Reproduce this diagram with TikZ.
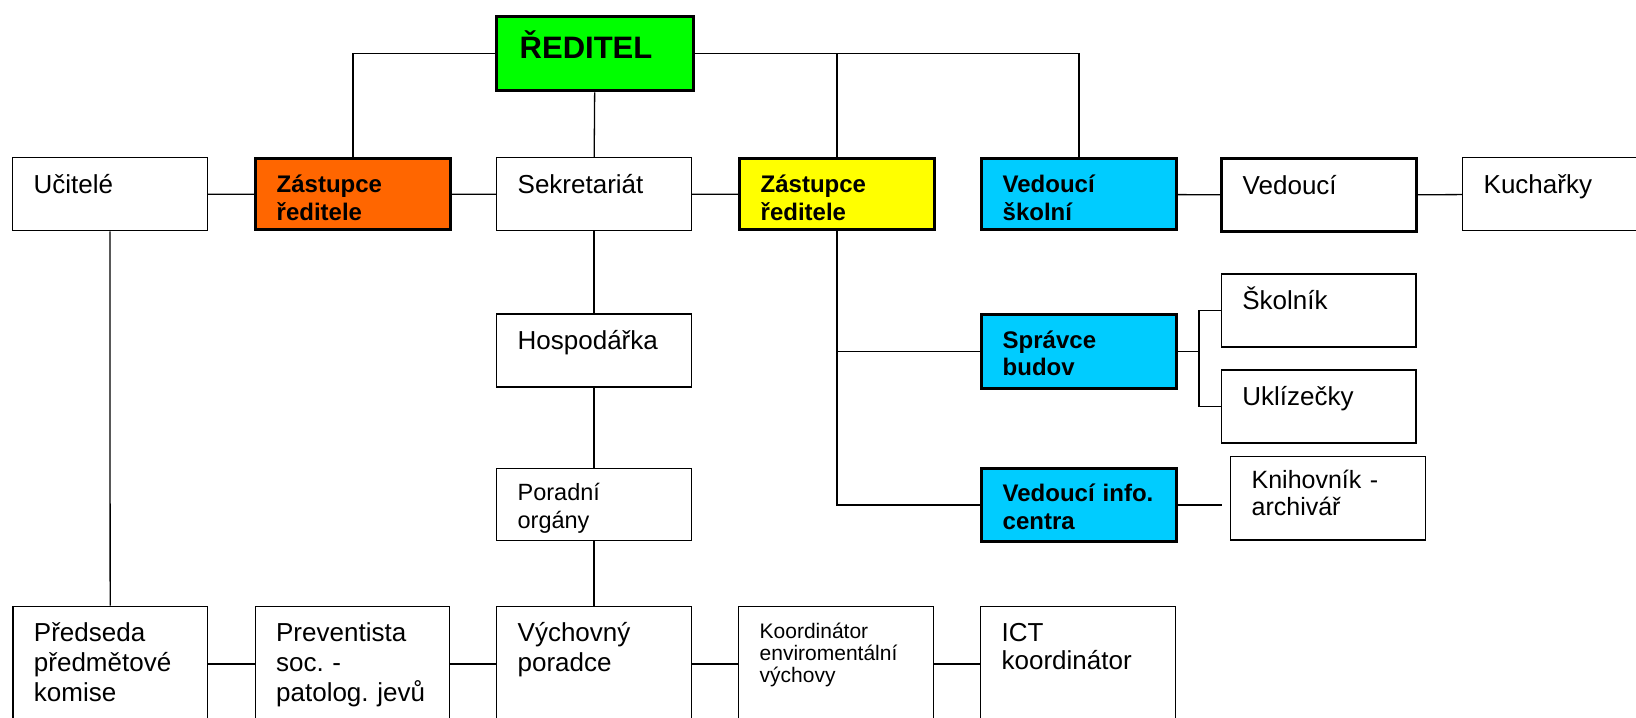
\documentclass[tikz,border=0pt]{standalone}
\usepackage{fontspec}
\setmainfont{Liberation Sans}
\usepackage{tikz}
\usetikzlibrary{calc}
\usetikzlibrary{positioning}
\definecolor{headGreen}{HTML}{00FF00}
\definecolor{deptOrange}{HTML}{FF6600}
\definecolor{deptYellow}{HTML}{FFFF00}
\definecolor{leadCyan}{HTML}{00CCFF}
\tikzstyle{box} = [draw, line width=0.65pt, anchor=north west, align=left, inner ysep=0pt, inner xsep=10.5pt, text width=76.25pt, font=\fontsize{13pt}{15pt}\selectfont, text height=18pt, text depth=18.5pt]
\tikzstyle{strong} = [line width=1.7pt]
\tikzstyle{boldtext} = [font=\bfseries\fontsize{12pt}{13.65pt}\selectfont, text height=17pt]
\tikzstyle{tallbox} = [text height=17.5pt, text depth=40pt, font=\fontsize{13pt}{15pt}\selectfont]
\tikzstyle{link} = [line width=0.65pt]
\frenchspacing

\begin{document}
\begin{tikzpicture}[x=0.5pt, y=-0.5pt]
    \useasboundingbox (0,0) rectangle (1636,717);

    \node[box, strong, fill=headGreen, inner xsep=11.5pt, text width=75.25pt, text height=21pt, text depth=16pt, font=\bfseries\fontsize{15.5pt}{17pt}\selectfont] (head) at (495,15) {ŘEDITEL};

    \node[box] (ucitele) at (12,157) {Učitelé};
    \node[box, strong, boldtext, fill=deptOrange] (zast_left) at (254,157) {Zástupce\\ředitele};
    \node[box] (sekr) at (496,157) {Sekretariát};
    \node[box, strong, boldtext, fill=deptYellow] (zast_right) at (738,157) {Zástupce\\ředitele};
    \node[box, strong, boldtext, fill=leadCyan] (ved_skol) at (980,157) {Vedoucí\\školní};
    \node[box, strong] (vedouci) at (1220,157) {Vedoucí};
    \node[box] (kuchar) at (1462,157) {Kuchařky};

    \node[box] (hosp) at (496,313.3) {Hospodářka};
    \node[box, strong, boldtext, fill=leadCyan, text depth=20pt] (spravce) at (980,312.7) {Správce\\budov};
    \node[box] (skolnik) at (1220.7,273.3) {Školník};
    \node[box] (uklid) at (1220.7,369.3) {Uklízečky};

    \node[box, font=\fontsize{11.75pt}{14pt}\selectfont, text height=16.25pt, text depth=19.75pt] (poradni) at (496,467.5) {Poradní\\orgány};
    \node[box, strong, boldtext, fill=leadCyan, text height=16.65pt, text depth=20pt] (info_c) at (980,466.7) {Vedoucí~info.\\centra};
    \node[box, font=\fontsize{12.5pt}{13.5pt}\selectfont, text height=16.15pt, text depth=25.6pt] (knih) at (1230,455.7) {Knihovník -\\archivář};

    \node[box, tallbox] (predseda) at (12.3,605.7) {Předseda\\předmětové\\komise};
    \node[box, tallbox] (prevent) at (254.5,605.7) {Preventista\\soc. -\\patolog.~jevů};
    \node[box, tallbox] (vychov) at (496,605.7) {Výchovný\\poradce};
    \node[box, tallbox, font=\fontsize{10.5pt}{11pt}\selectfont, text height=16pt, text depth=41.5pt] (koord) at (738,605.7) {Koordinátor\\enviromentální\\výchovy};
    \node[box, tallbox, font=\fontsize{13pt}{14.2pt}\selectfont] (ict) at (980,605.7) {ICT\\koordinátor};

    % top level
    \draw[link] (head.west) -| (zast_left.north);
    \draw[link] (head) -- (sekr);
    \draw[link] (head.east) -| (zast_right.north);
    \draw[link] (head.east) -| (ved_skol.north);

    % first row
    \draw[link] (ucitele) -- (zast_left);
    \draw[link] (zast_left) -- (sekr);
    \draw[link] (sekr) -- (zast_right);
    \draw[link] (ved_skol) -- (vedouci);
    \draw[link] (vedouci) -- (kuchar);

    % middle column
    \draw[link] (ucitele) -- (predseda);
    \draw[link] (sekr) -- (hosp);
    \draw[link] (hosp) -- (poradni);
    \draw[link] (poradni) -- (vychov);

    % right branch
    \draw[link] (zast_right.south) |- (spravce.west);
    \draw[link] (zast_right.south) |- (info_c.west);
    \draw[link] (spravce.east) -- ++(21,0) coordinate (brk);
    \draw[link] (skolnik.west) -| (brk) |- (uklid.west);
    \draw[link, shorten >=4pt] (info_c.east) -- (info_c.east -| knih.west);

    % bottom row
    \draw[link] (predseda) -- (prevent);
    \draw[link] (prevent) -- (vychov);
    \draw[link] (vychov) -- (koord);
    \draw[link] (koord) -- (ict);
\end{tikzpicture}
\end{document}
